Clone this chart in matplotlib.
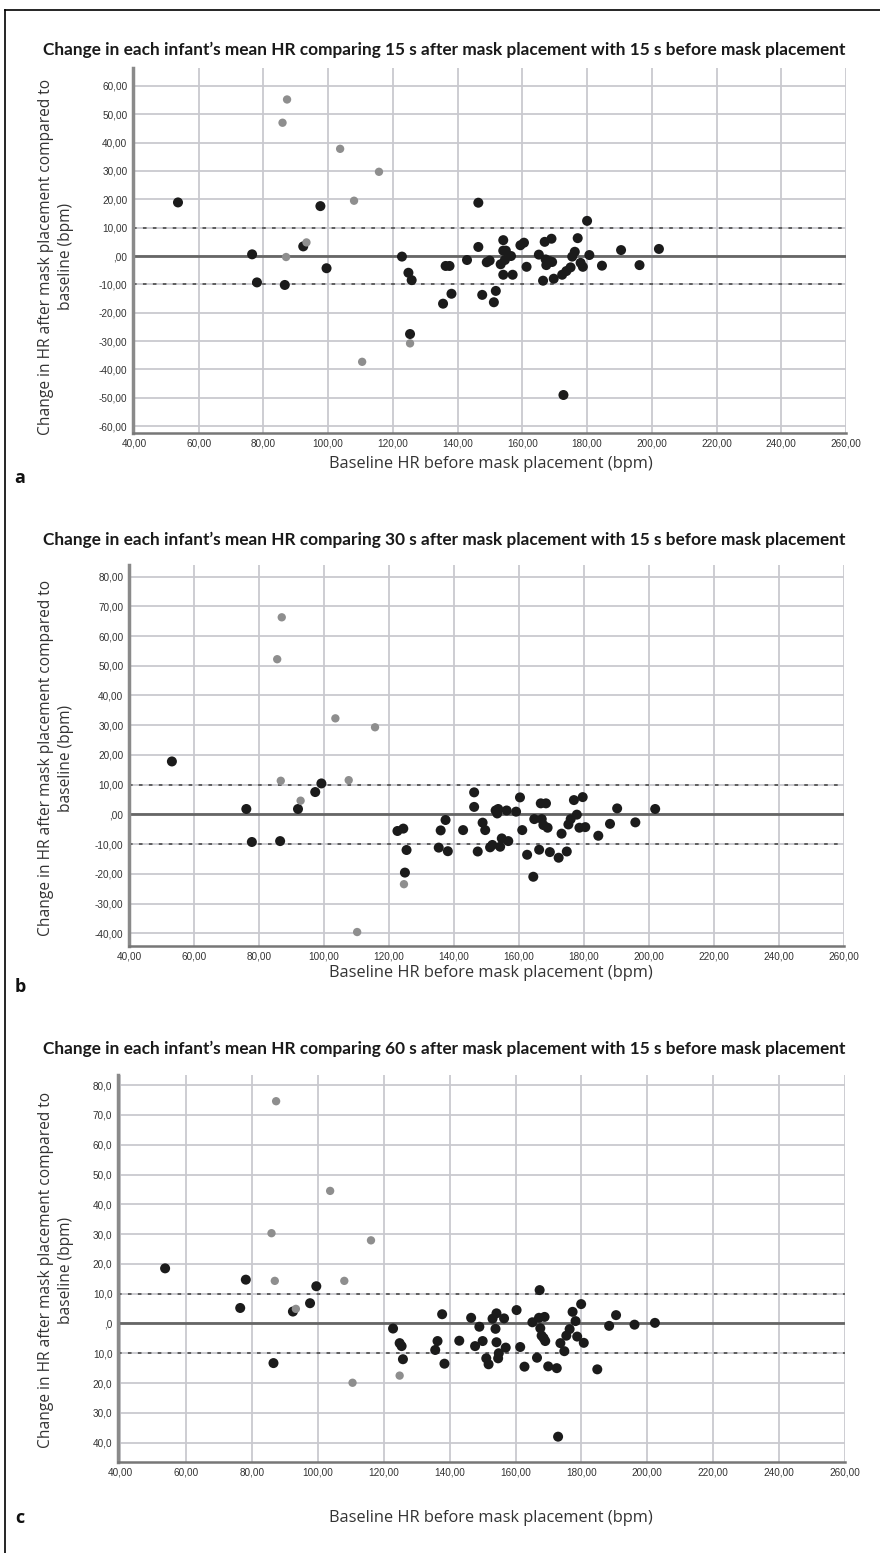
import numpy as np
import matplotlib.pyplot as plt
from matplotlib.lines import Line2D

# panel a: 15 s after vs 15 s before
a_black_hr = [53.6, 97.6, 76.5, 92.3, 99.5, 78.0, 86.6, 146.4, 180.0, 122.8, 124.8, 125.8, 125.3,
              135.5, 138.1, 136.3, 137.5, 142.9, 146.4, 147.6, 151.2, 151.8, 149.0, 149.9, 154.1,
              154.1, 154.9, 153.3, 154.6, 156.5, 154.1, 157.0, 159.4, 160.5, 161.3, 165.1, 166.9,
              169.0, 167.2, 168.5, 169.2, 167.4, 166.4, 169.7, 172.3, 173.6, 174.9, 176.2, 175.4,
              177.1, 178.0, 178.7, 180.7, 184.6, 190.5, 196.2, 202.2, 172.7]
a_black_change = [18.9, 17.6, 0.6, 3.4, -4.3, -9.3, -10.2, 18.8, 12.4, -0.2, -5.9, -8.5, -27.5,
                  -16.8, -13.3, -3.5, -3.5, -1.4, 3.2, -13.7, -16.3, -12.3, -2.2, -1.6, 5.6,
                  1.9, 1.9, -2.9, -1.4, 0.0, -6.6, -6.6, 3.8, 4.7, -3.8, 0.5, 5.0,
                  6.1, -1.2, -1.8, -2.1, -3.2, -8.7, -8.0, -6.6, -5.3, -4.0, 1.5, -0.2,
                  6.3, -2.4, -3.8, 0.35, -3.4, 2.1, -3.2, 2.5, -49.0]
a_grey_hr = [87.3, 85.9, 103.7, 115.7, 108.0, 87.0, 93.3, 110.5, 125.3]
a_grey_change = [55.2, 47.0, 37.8, 29.7, 19.5, -0.35, 4.8, -37.3, -30.8]

# panel b: 30 s after vs 15 s before
b_black_hr = [53.2, 99.2, 97.3, 92.0, 76.1, 77.8, 86.5, 122.6, 124.4, 125.4, 124.9, 164.4, 135.9,
              137.4, 135.3, 138.1, 142.8, 146.2, 146.2, 148.8, 149.6, 147.3, 151.1, 151.8, 154.2,
              154.7, 156.7, 152.8, 153.6, 153.3, 156.2, 159.1, 160.3, 161.0, 162.5, 166.2, 164.7,
              167.0, 167.5, 168.8, 166.7, 168.3, 169.5, 172.2, 173.1, 174.7, 175.2, 175.9, 177.8,
              176.9, 179.6, 178.6, 180.4, 184.4, 188.0, 190.2, 195.8, 201.9]
b_black_change = [17.8, 10.4, 7.5, 1.8, 1.8, -9.3, -9.0, -5.6, -4.8, -12.0, -19.6, -21.0, -5.4,
                  -1.9, -11.2, -12.4, -5.3, 7.4, 2.5, -2.8, -5.3, -12.5, -11.1, -10.3, -10.9,
                  -8.1, -9.0, 1.3, 1.8, 0.3, 1.3, 0.9, 5.7, -5.3, -13.6, -11.9, -1.6,
                  -1.6, -3.6, -4.5, 3.7, 3.7, -12.7, -14.6, -6.5, -12.5, -3.4, -1.6, -0.1,
                  4.8, 5.8, -4.5, -4.3, -7.2, -3.2, 2.0, -2.7, 1.8]
b_grey_hr = [87.0, 85.6, 103.5, 115.7, 86.7, 107.6, 92.8, 110.2, 124.6]
b_grey_change = [66.3, 52.2, 32.3, 29.3, 11.3, 11.5, 4.6, -39.6, -23.5]

# panel c: 60 s after vs 15 s before
c_black_hr = [53.6, 78.1, 99.5, 76.4, 97.6, 92.4, 86.5, 122.8, 124.8, 125.4, 125.8, 137.7, 136.3,
              135.6, 138.4, 142.9, 146.5, 149.0, 147.7, 150.0, 151.1, 151.8, 153.0, 154.2, 153.9,
              154.2, 154.9, 154.7, 156.5, 157.0, 160.3, 161.4, 162.7, 165.1, 167.1, 168.8, 167.3,
              167.5, 167.9, 168.5, 169.0, 166.5, 169.9, 172.5, 173.6, 174.8, 175.4, 176.4, 177.3,
              178.2, 179.9, 178.7, 180.7, 184.8, 188.4, 190.5, 196.1, 202.3, 172.9]
c_black_change = [18.5, 14.7, 12.5, 5.2, 6.8, 4.0, -13.3, -1.7, -6.6, -7.6, -12.0, 3.1, -5.9,
                  -8.9, -13.5, -5.8, 1.9, -1.1, -7.6, -5.9, -11.7, -13.7, 1.6, 3.4, -1.8,
                  -6.3, -10.0, -11.7, 1.7, -8.1, 4.5, -7.9, -14.5, 0.4, 1.9, 2.2, 11.2,
                  -1.6, -4.1, -4.9, -5.9, -11.5, -14.4, -15.0, -6.6, -9.3, -4.1, -1.9, 3.9,
                  0.8, 6.5, -4.4, -6.5, -15.4, -0.8, 2.8, -0.4, 0.2, -38.0]
c_grey_hr = [87.3, 103.7, 85.9, 116.1, 86.9, 108.0, 93.3, 110.5, 124.8]
c_grey_change = [74.6, 44.5, 30.3, 27.9, 14.3, 14.3, 4.9, -19.9, -17.5]

x_ticks = [40, 60, 80, 100, 120, 140, 160, 180, 200, 220, 240, 260]
a_y_ticks = [-60, -50, -40, -30, -20, -10, 0, 10, 20, 30, 40, 50, 60]
b_y_ticks = [-40, -30, -20, -10, 0, 10, 20, 30, 40, 50, 60, 70, 80]
c_y_ticks = [-40, -30, -20, -10, 0, 10, 20, 30, 40, 50, 60, 70, 80]
limits_of_agreement = [-10, 10]

titles = ["Change in each infant\u2019s mean HR comparing 15 s after mask placement with 15 s before mask placement",
          "Change in each infant\u2019s mean HR comparing 30 s after mask placement with 15 s before mask placement",
          "Change in each infant\u2019s mean HR comparing 60 s after mask placement with 15 s before mask placement"]
ylabel = "Change in HR after mask placement compared to\nbaseline (bpm)"
xlabel = "Baseline HR before mask placement (bpm)"

W, H = 880, 1553
fig = plt.figure(figsize=(W / 100, H / 100), dpi=100)


def box(l, t, r, b):
    return [l / W, 1 - b / H, (r - l) / W, (b - t) / H]


def comma(v, nd, minus=True):
    s = "{0:.{1}f}".format(abs(v), nd).replace('.', ',')
    if s.startswith('0,'):
        s = s[1:]
    if v < 0 and minus:
        s = '-' + s
    return s


def panel(rect, xlim, ylim, yticks, nd, minus, bx, by, gx, gy):
    ax = fig.add_axes(rect)
    ax.set_xlim(*xlim)
    ax.set_ylim(*ylim)
    ax.set_xticks(x_ticks)
    ax.set_xticklabels([comma(v, 2) for v in x_ticks])
    ax.set_yticks(yticks)
    ax.set_yticklabels([comma(v, nd, minus) for v in yticks])
    ax.grid(True, color='#c9c9cf', lw=1.3, zorder=0)
    ax.set_axisbelow(True)
    for s in ['top', 'right']:
        ax.spines[s].set_visible(False)
    ax.spines['left'].set_color('#8a8a8a')
    ax.spines['left'].set_linewidth(2.5)
    ax.spines['bottom'].set_color('#777777')
    ax.spines['bottom'].set_linewidth(1.8)
    ax.tick_params(length=0, pad=4, labelsize=7.2, colors='#333333')
    for lab in ax.get_xticklabels() + ax.get_yticklabels():
        lab.set_family(['Liberation Sans Narrow', 'Liberation Sans'])
    ax.axhline(0, color='#666666', lw=2, zorder=1)
    for v in limits_of_agreement:
        ax.axhline(v, color='#555555', lw=1.3, ls=(0, (2, 3.5)), zorder=1)
    ax.scatter(bx, by, s=52, color='#1b1b1b', edgecolors='none', zorder=3)
    ax.scatter(gx, gy, s=36, color='#8e8e8e', edgecolors='none', zorder=4)
    return ax


panel(box(133, 68, 846, 433), (39.7, 260), (-62.4, 66.3), a_y_ticks, 2, True,
      a_black_hr, a_black_change, a_grey_hr, a_grey_change)
panel(box(129, 565, 844, 946), (40, 260), (-44.3, 83.9), b_y_ticks, 2, True,
      b_black_hr, b_black_change, b_grey_hr, b_grey_change)
panel(box(118, 1075, 845, 1462), (39.3, 260), (-46.5, 83.4), c_y_ticks, 1, False,
      c_black_hr, c_black_change, c_grey_hr, c_grey_change)

title_y = [50, 540, 1049]
ylabel_y = [257, 758, 1270]
xlabel_y = [464, 973, 1518]
letter_y = [478, 987, 1518]
letters = ['a', 'b', 'c']
for i in range(3):
    fig.text(444 / W, 1 - title_y[i] / H, titles[i], ha='center', va='center',
             fontsize=12.4, fontweight='bold', family='Lato', color='#1a1a1a')
    fig.text(56 / W, 1 - ylabel_y[i] / H, ylabel, ha='center', va='center', rotation=90,
             fontsize=11.2, family='Open Sans', color='#333333', linespacing=1.3)
    fig.text(491 / W, 1 - xlabel_y[i] / H, xlabel, ha='center', va='center',
             fontsize=11.8, family='Open Sans', color='#333333')
    fig.text(20 / W, 1 - letter_y[i] / H, letters[i], ha='center', va='center',
             fontsize=13, fontweight='bold', family='Open Sans', color='#111111')

# page frame
fig.add_artist(Line2D([5 / W, 5 / W], [0, 1 - 10 / H], color='black', lw=1.2))
fig.add_artist(Line2D([5 / W, 1], [1 - 10 / H, 1 - 10 / H], color='black', lw=1.2))

fig.savefig('out.png', dpi=100)
